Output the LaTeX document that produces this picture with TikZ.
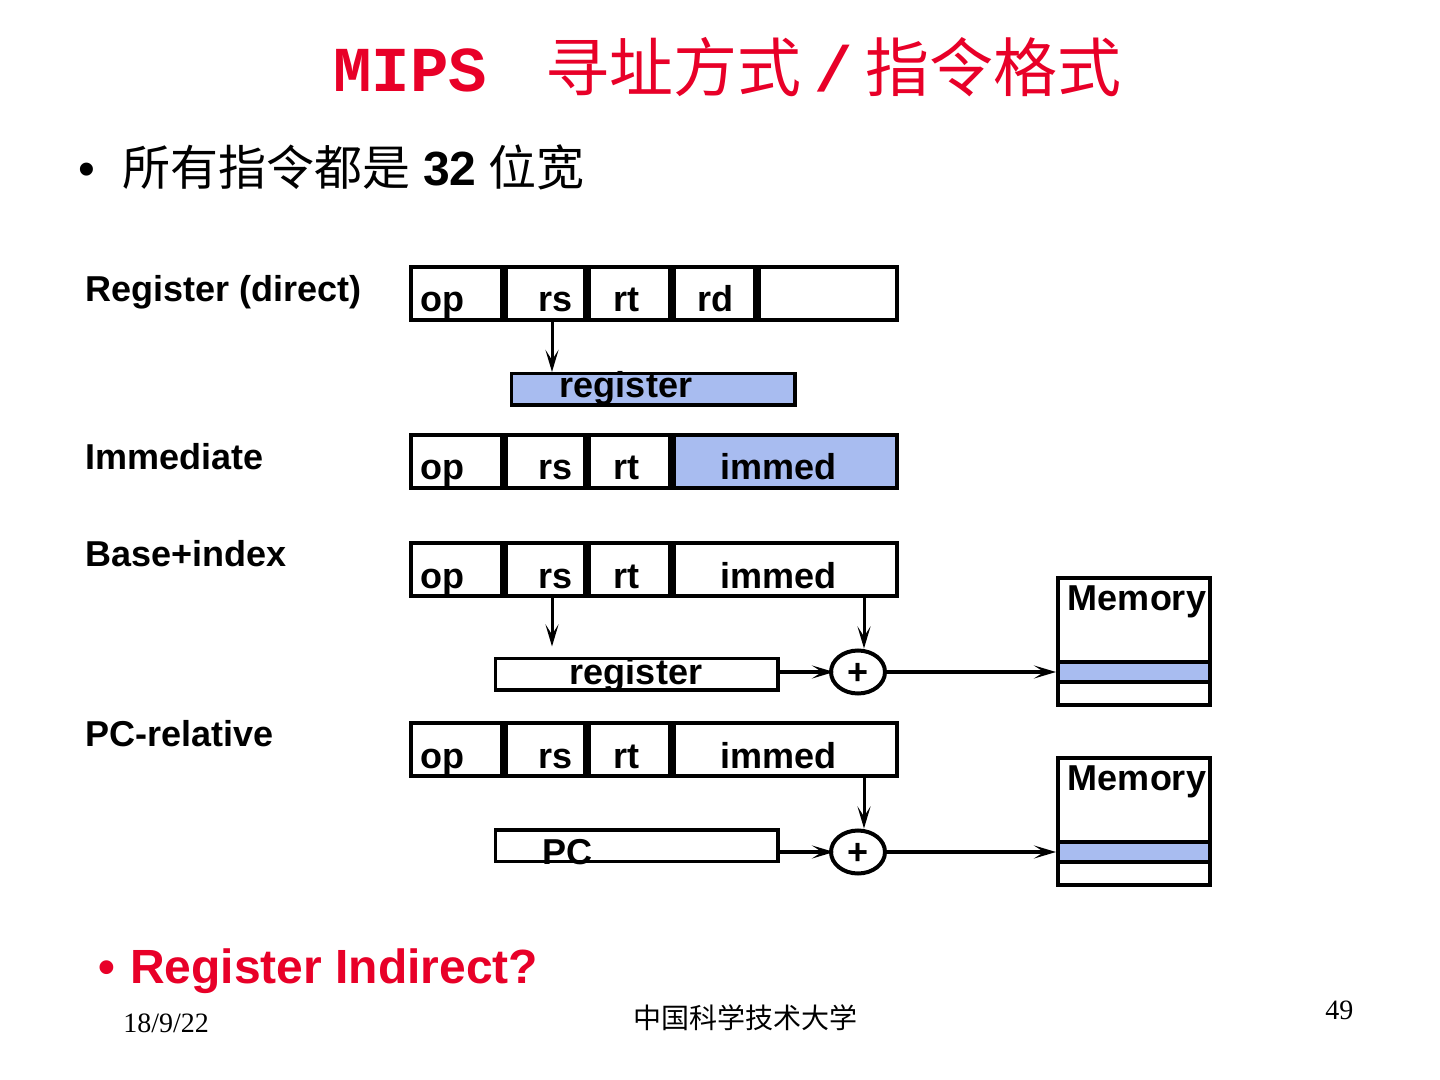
\documentclass[tikz,border=0pt]{standalone}
\usepackage{fontspec}
\setmainfont{Liberation Sans}
\newfontfamily\cjk{Noto Sans CJK SC}
\newfontfamily\titlemono{Liberation Mono}
\newfontfamily\footserif{Liberation Serif}
\usepackage{xcolor}
\usetikzlibrary{positioning,arrows.meta,shapes.geometric}
\definecolor{slidered}{RGB}{232,0,40}
\definecolor{cellblue}{RGB}{168,188,240}

\begin{document}
\begin{tikzpicture}[x=0.5pt,y=-0.5pt,
  lbl/.style={inner sep=0pt,font=\fontsize{18}{20}\selectfont\bfseries},
  field/.style={draw,line width=2pt,minimum height=26.5pt,inner sep=0pt},
  regbox/.style={draw,line width=1.75pt,minimum width=141.25pt,minimum height=15.75pt,inner sep=0pt},
  adder/.style={ellipse,draw,line width=2pt,minimum width=27pt,minimum height=21.5pt,inner sep=0pt},
  mem/.style={draw,line width=2pt,minimum width=76pt,minimum height=63.5pt,inner sep=0pt},
  cell/.style={draw,line width=2pt,fill=cellblue,minimum width=76pt,minimum height=10pt,inner sep=0pt},
  arr/.style={line width=1.5pt,-{Stealth[length=11pt,width=6.5pt,inset=5pt]}}]
\fill[white] (0,0) rectangle (1440,1080);
\useasboundingbox (0,0) rectangle (1440,1080);

\node[anchor=base west,inner sep=0pt,text=slidered,font=\fontsize{32}{36}\selectfont] (title) at (333,92)
  {{\titlemono\bfseries MIPS}\hspace{29pt}{\cjk 寻址方式}\hspace{6.5pt}{\titlemono\bfseries /}\hspace{6.5pt}{\cjk 指令格式}};
\node[anchor=base west,inner sep=0pt,font=\fontsize{24}{28}\selectfont] (intro) at (78,186)
  {•\hspace{13.5pt}{\cjk 所有指令都是}\hspace{6.5pt}\textbf{32}\hspace{6pt}{\cjk 位宽}};

\node[lbl,anchor=base west] (modeA) at (85,302) {Register (direct)};
\node[lbl,anchor=base west] (modeB) at (85,470) {Immediate};
\node[lbl,anchor=base west] (modeC) at (85,566) {Base+index};
\node[lbl,anchor=base west] (modeD) at (85,746) {PC-relative};

% instruction words
\foreach \r/\y in {A/293.5,B/461.5,C/569.5,D/749.5}{
  \node[field,minimum width=45.5pt,anchor=west] (op\r) at (409,\y) {};
  \node[field,minimum width=39.5pt,right=0pt of op\r] (rs\r) {};
  \node[field,minimum width=40.5pt,right=0pt of rs\r] (rt\r) {};
  \node[lbl,anchor=base west] (opl\r) at ([xshift=5.5pt,yshift=5pt]op\r.south west) {op};
  \node[lbl,anchor=base east] (rsl\r) at ([xshift=-7pt,yshift=5pt]rs\r.south east) {rs};
  \node[lbl,anchor=base west] (rtl\r) at ([xshift=13pt,yshift=5pt]rt\r.south west) {rt};
}
\node[field,minimum width=40.5pt,right=0pt of rtA] (rdA) {};
\node[field,minimum width=69pt,right=0pt of rdA] (fnA) {};
\node[lbl,anchor=base west] (rdlA) at ([xshift=12.5pt,yshift=5pt]rdA.south west) {rd};
\node[field,fill=cellblue,minimum width=111.5pt,right=0pt of rtB] (immB) {};
\foreach \r in {C,D}
  \node[field,minimum width=111.5pt,right=0pt of rt\r] (imm\r) {};
\foreach \r in {B,C,D}
  \node[lbl,anchor=base west] (imml\r) at ([xshift=24pt,yshift=5pt]imm\r.south west) {immed};

% operands
\node[regbox,fill=cellblue,minimum width=141.75pt] (regA) at (653,389.5) {};
\node[lbl,anchor=base] (reglA) at (626,398) {register};
\node[regbox] (regC) at (636.5,674) {};
\node[lbl,anchor=base] (reglC) at (636,684) {register};
\node[regbox] (pcD) at (636.5,845.5) {};
\node[lbl,anchor=base west] (pclD) at (542,864) {PC};

\node[adder] (sumC) at (858,672) {};
\node[lbl,anchor=base] (plusC) at ([yshift=-6pt]sumC.center) {+};
\node[adder] (sumD) at (858,852) {};
\node[lbl,anchor=base] (plusD) at ([yshift=-6pt]sumD.center) {+};

\node[mem] (memC) at (1134,641.5) {};
\node[cell] (bandC) at (1134,672) {};
\node[lbl,anchor=base] (memlC) at ([xshift=1.5pt,yshift=-17pt]memC.north) {Memory};
\node[mem] (memD) at (1134,821.5) {};
\node[cell] (bandD) at (1134,852) {};
\node[lbl,anchor=base] (memlD) at ([xshift=1.5pt,yshift=-17pt]memD.north) {Memory};

\coordinate (tapA) at ([xshift=3.25pt]rsA.south);
\coordinate (tapC) at ([xshift=3.25pt]rsC.south);
\coordinate (addC) at ([xshift=3pt]sumC.north);
\coordinate (addD) at ([xshift=3pt]sumD.north);
\draw[arr] (tapA) -- (tapA |- regA.north);
\draw[arr,shorten >=5pt] (tapC) -- (tapC |- regC.north);
\draw[arr] (addC |- immC.south) -- (addC);
\draw[arr] (addD |- immD.south) -- (addD);
\draw[arr,line width=1.75pt,shorten >=-2.5pt] (regC.east |- sumC.west) -- (sumC.west);
\draw[arr,line width=1.75pt] (sumC.east) -- (bandC.west);
\draw[arr,line width=1.75pt,shorten >=-2.5pt] (pcD.east |- sumD.west) -- (sumD.west);
\draw[arr,line width=1.75pt] (sumD.east) -- (bandD.west);

\node[anchor=base west,inner sep=0pt,text=slidered,font=\fontsize{24}{28}\selectfont\bfseries] (quest) at (98,983)
  {•\hspace{7.5pt}Register Indirect?};
\node[anchor=base west,inner sep=0pt,font=\fontsize{14}{16}\selectfont\footserif] (date) at (123,1032) {18/9/22};
\node[anchor=base west,inner sep=0pt,font=\fontsize{14}{16}\selectfont\cjk] (school) at (633,1028) {中国科学技术大学};
\node[anchor=base west,inner sep=0pt,font=\fontsize{14}{16}\selectfont\footserif] (page) at (1325,1019) {49};
\end{tikzpicture}
\end{document}
